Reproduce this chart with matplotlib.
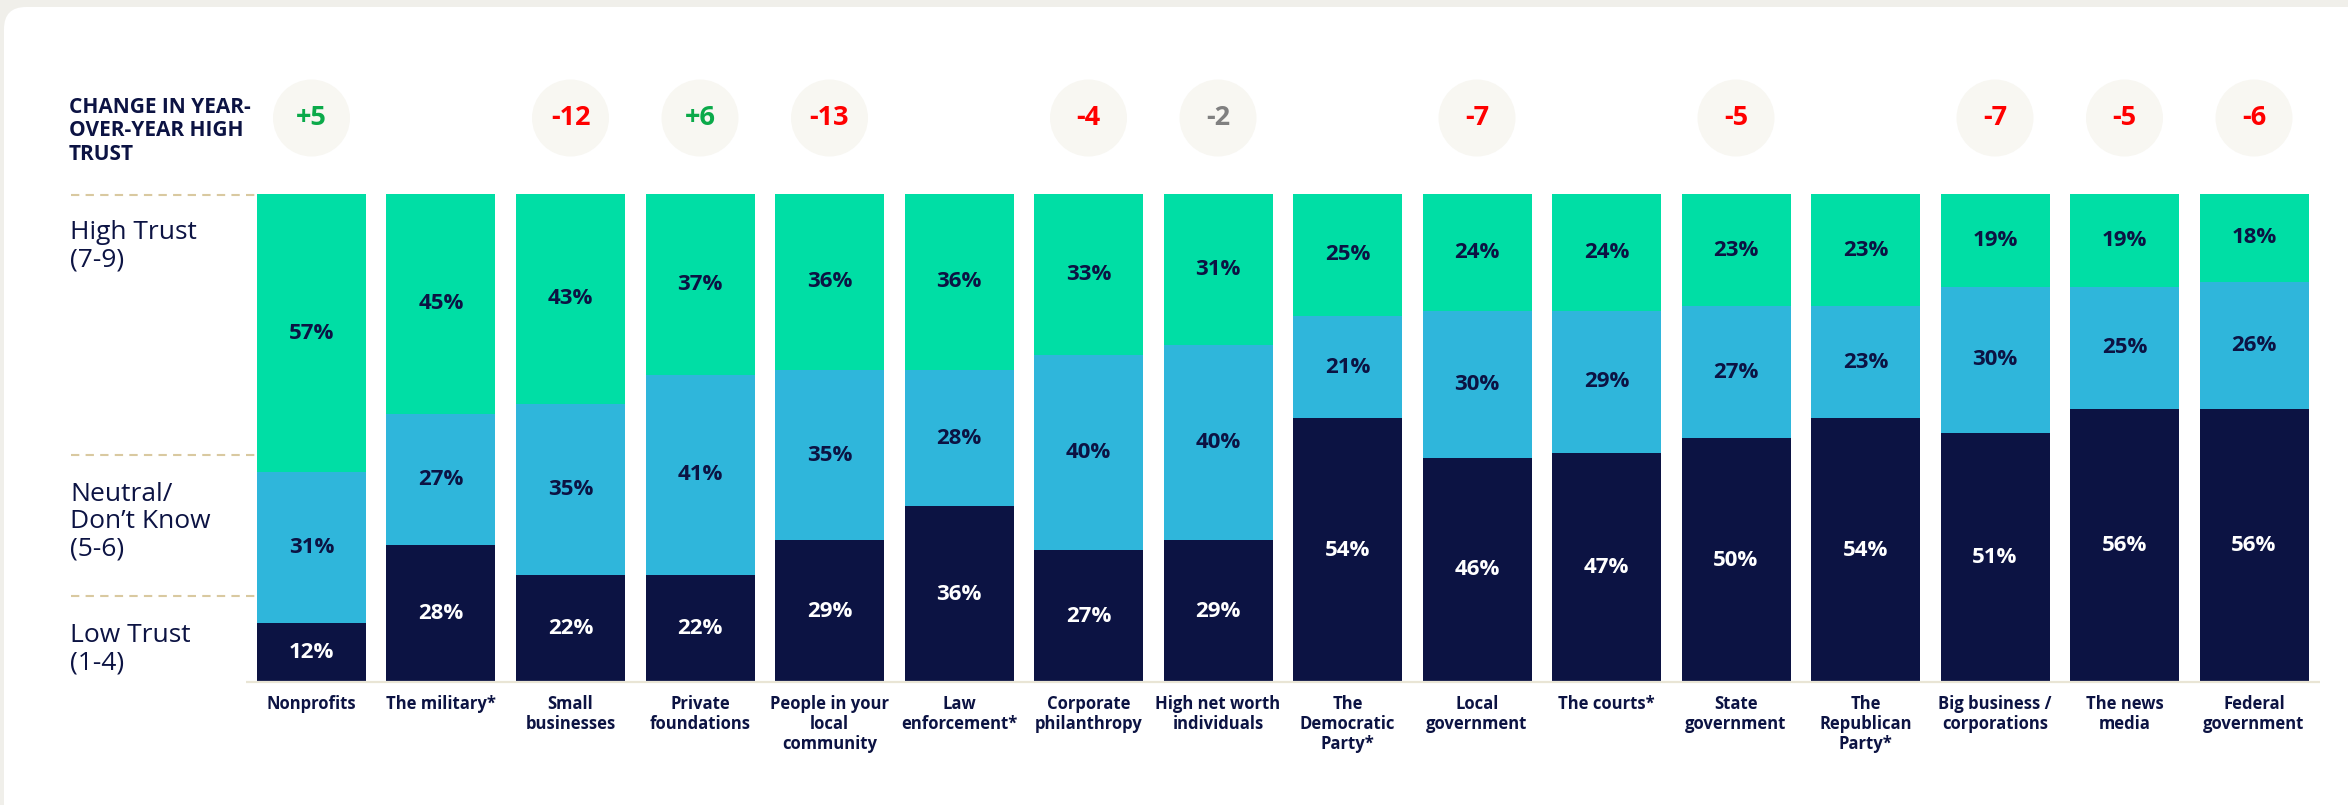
import matplotlib
matplotlib.use("Agg")
import matplotlib.pyplot as plt
from matplotlib.patches import Ellipse, FancyBboxPatch

plt.rcParams['font.family'] = ['Open Sans', 'DejaVu Sans']
plt.rcParams['font.stretch'] = 'normal'

# ---- data ----
categories = [
    "Nonprofits", "The military*", "Small\nbusinesses", "Private\nfoundations",
    "People in your\nlocal\ncommunity", "Law\nenforcement*", "Corporate\nphilanthropy",
    "High net worth\nindividuals", "The\nDemocratic\nParty*", "Local\ngovernment",
    "The courts*", "State\ngovernment", "The\nRepublican\nParty*",
    "Big business /\ncorporations", "The news\nmedia", "Federal\ngovernment",
]
high_trust = [57, 45, 43, 37, 36, 36, 33, 31, 25, 24, 24, 23, 23, 19, 19, 18]
neutral = [31, 27, 35, 41, 35, 28, 40, 40, 21, 30, 29, 27, 23, 30, 25, 26]
low_trust = [12, 28, 22, 22, 29, 36, 27, 29, 54, 46, 47, 50, 54, 51, 56, 56]
yoy_change = [5, None, -12, 6, -13, None, -4, -2, None, -7, None, -5, None, -7, -5, -6]

segment_labels = ["High Trust\n(7-9)", "Neutral/\nDon\u2019t Know\n(5-6)", "Low Trust\n(1-4)"]
header = "CHANGE IN YEAR-\nOVER-YEAR HIGH\nTRUST"

# ---- style ----
GREEN = "#00DEA5"
BLUE = "#2FB6DB"
NAVY = "#0C1343"
CIRCLE = "#F8F7F2"
POS = "#0BAA4A"
NEG = "#FF0000"
FLAT = "#808080"
DASH = "#D9C9A0"
BG = "#F0EFEA"
BOLD = "bold"

W, H = 2348, 805
fig = plt.figure(figsize=(W / 100, H / 100), dpi=100, facecolor=BG)

# white card with rounded corner
card = fig.add_axes([0, 0, 1, 1])
card.set_xlim(0, W)
card.set_ylim(H, 0)
card.axis("off")
card.add_patch(FancyBboxPatch((4, 7), W + 60, H + 60,
                              boxstyle="round,pad=0,rounding_size=22",
                              fc="white", ec="none"))

# main drawing axes; data x = category index, data y = percent
ax = fig.add_axes([0, 0, 1, 1])
ax.patch.set_alpha(0)
ax.axis("off")
pitch_px = 129.5
x0_px = 311.5
ppu = 4.88          # pixels per percentage point
base_px = 682       # baseline, from top
ax.set_xlim(-x0_px / pitch_px, (W - x0_px) / pitch_px)
ax.set_ylim(-(H - base_px) / ppu, base_px / ppu)


def dx(px):
    return (px - x0_px) / pitch_px


def dy(py):
    return (base_px - py) / ppu


n = len(categories)
xs = list(range(n))
bar_w = 109 / pitch_px

ax.bar(xs, low_trust, width=bar_w, color=NAVY, edgecolor="none")
ax.bar(xs, neutral, width=bar_w, bottom=low_trust, color=BLUE, edgecolor="none")
bottom_high = [a + b for a, b in zip(low_trust, neutral)]
ax.bar(xs, high_trust, width=bar_w, bottom=bottom_high, color=GREEN, edgecolor="none")

# segment value labels
for i in xs:
    lo, ne, hi = low_trust[i], neutral[i], high_trust[i]
    ax.text(i, lo / 2, f"{lo}%", ha="center", va="center", color="white",
            fontsize=16, fontweight=BOLD)
    ax.text(i, lo + ne / 2, f"{ne}%", ha="center", va="center", color=NAVY,
            fontsize=16, fontweight=BOLD)
    ax.text(i, lo + ne + hi / 2, f"{hi}%", ha="center", va="center", color=NAVY,
            fontsize=16, fontweight=BOLD)
    ax.text(i, dy(695), categories[i], ha="center", va="top", color=NAVY,
            fontsize=12, fontweight=BOLD, linespacing=1.15)

# baseline
ax.plot([dx(246), dx(2320)], [0, 0], color="#E9E5D5", lw=1.6, solid_capstyle="butt")

# year-over-year change badges
cy = dy(118)
for i, c in enumerate(yoy_change):
    if c is None:
        continue
    ax.add_patch(Ellipse((i, cy), 77 / pitch_px, 77 / ppu, fc=CIRCLE, ec="none"))
    col = POS if c > 0 else (NEG if c <= -3 else FLAT)
    ax.text(i, cy, f"{c:+d}", ha="center", va="center", color=col,
            fontsize=19.5, fontweight=BOLD)

# header and segment legend on the left
ax.text(dx(69), dy(97), header, ha="left", va="top", color=NAVY,
        fontsize=15, fontweight=BOLD, linespacing=1.15)

for ypx in (195, 455, 596):
    ax.plot([dx(71), dx(257)], [dy(ypx), dy(ypx)], color=DASH, lw=1.5,
            linestyle=(0, (4, 3)))

for label, ytop in zip(segment_labels, (220, 482, 623)):
    ax.text(dx(70), dy(ytop), label, ha="left", va="top", color=NAVY,
            fontsize=19, linespacing=1.12)

fig.savefig("out.png", dpi=100, facecolor=BG)
